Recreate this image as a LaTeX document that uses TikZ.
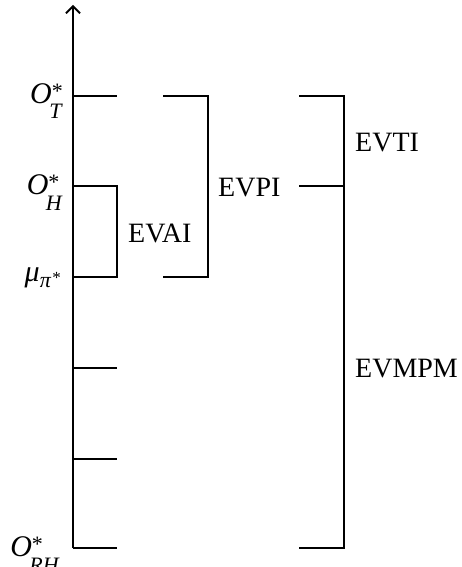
\documentclass[tikz,border=0pt]{standalone}
\usepackage{fontspec}
\setmainfont{Liberation Serif}
\usetikzlibrary{arrows.meta}
\newcommand\subfnt{\fontsize{22}{22}\selectfont}
\newcommand\subsubfnt{\fontsize{17}{17}\selectfont}
\newcommand\OLab[1]{\textit{O}\makebox[0pt][l]{\raisebox{5pt}{\subfnt *}}\kern-2.5pt\raisebox{-16pt}{\subfnt\textit{#1}}}
\newcommand\MuLab{\textit{μ}\raisebox{-6pt}{\subfnt\textit{π}\kern1pt\raisebox{4pt}{\subsubfnt *}}}
\begin{document}
\begin{tikzpicture}[x=1pt,y=-1pt,
  line/.style={line width=2pt},
  axlab/.style={anchor=base east,inner sep=0pt,font=\fontsize{30}{32}\selectfont},
  evlab/.style={anchor=base west,inner sep=0pt,font=\fontsize{28}{30}\selectfont}]
\useasboundingbox (0,0) rectangle (462,567);
% axis
\coordinate (bot) at (73,548);
\coordinate (top) at (73,5);
\draw[line,-{Straight Barb[length=7pt,width=14pt,line width=1.8pt]}] (bot) -- (top);
% ticks on axis
\coordinate (t1) at (73,96);
\coordinate (t2) at (73,186);
\coordinate (t3) at (73,277);
\coordinate (t4) at (73,368);
\coordinate (t5) at (73,459);
\coordinate (t6) at (73,548);
\foreach \t in {t1,t4,t5,t6}{\draw[line] (\t) -- ++(44,0);}
% EVAI bracket
\draw[line] (t2) -- ++(44,0) |- (t3);
% EVPI bracket
\coordinate (p1) at (163,96);
\coordinate (p2) at (163,277);
\draw[line] (p1) -- (208,96) |- (p2);
% EVTI / EVMPM bracket
\coordinate (q1) at (299,96);
\coordinate (q2) at (299,186);
\coordinate (q3) at (299,548);
\draw[line] (q1) -- (344,96) |- (q3);
\draw[line] (q2) -- (344,186);
% axis labels
\node[axlab] (lT) at (63,103) {\OLab{T}};
\node[axlab] (lH) at (63,194) {\OLab{H}};
\node[axlab] (lmu) at (61,281) {\MuLab};
\node[axlab] (lRH) at (60,556) {\OLab{RH}};
% bracket labels
\node[evlab] (evai) at (128,242) {EVAI};
\node[evlab] (evpi) at (218,196) {EVPI};
\node[evlab] (evti) at (355,151) {EVTI};
\node[evlab] (evmpm) at (355,377) {EVMPM};
\end{tikzpicture}
\end{document}
